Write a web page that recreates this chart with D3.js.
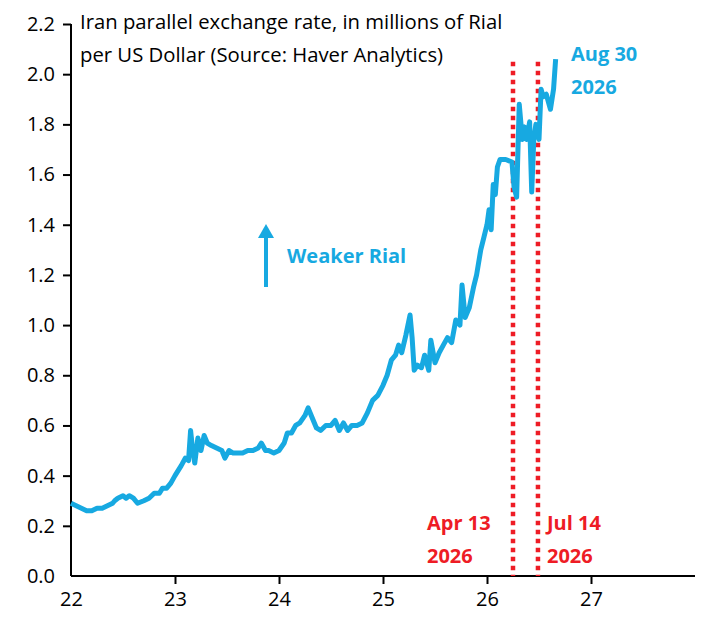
<!DOCTYPE html>
<html><head><meta charset="utf-8">
<script src="https://cdn.jsdelivr.net/npm/d3@7"></script>
<style>body{margin:0;background:#fff;font-family:"Open Sans",sans-serif;}</style>
</head><body><div id="chart"></div>
<script>
// year (decimal, 22 = 2022) and rate in millions of rial per USD
const years = [22.0,22.05,22.1,22.15,22.2,22.25,22.3,22.35,22.4,22.42,22.45,22.5,22.53,22.56,22.6,22.64,22.7,22.75,22.8,22.85,22.88,22.92,22.96,23.0,23.03,23.06,23.1,23.13,23.15,23.17,23.19,23.22,23.25,23.28,23.31,23.35,23.4,23.45,23.48,23.52,23.56,23.6,23.65,23.7,23.75,23.8,23.83,23.87,23.9,23.95,24.0,24.05,24.08,24.12,24.16,24.2,24.25,24.28,24.32,24.36,24.4,24.45,24.5,24.54,24.58,24.62,24.66,24.7,24.75,24.8,24.85,24.9,24.95,25.0,25.04,25.08,25.12,25.15,25.18,25.22,25.26,25.28,25.3,25.33,25.37,25.4,25.44,25.46,25.5,25.54,25.58,25.62,25.66,25.7,25.74,25.76,25.79,25.83,25.87,25.9,25.94,25.97,26.0,26.02,26.04,26.06,26.08,26.1,26.125,26.18,26.24,26.26,26.285,26.31,26.34,26.36,26.38,26.41,26.43,26.45,26.47,26.5,26.52,26.54,26.57,26.61,26.64,26.66];
const rates = [0.29,0.28,0.27,0.26,0.26,0.27,0.27,0.28,0.29,0.30,0.31,0.32,0.31,0.32,0.31,0.29,0.30,0.31,0.33,0.33,0.35,0.35,0.37,0.40,0.42,0.44,0.47,0.46,0.58,0.50,0.45,0.55,0.50,0.56,0.53,0.52,0.51,0.50,0.47,0.50,0.49,0.49,0.49,0.50,0.50,0.51,0.53,0.50,0.50,0.49,0.50,0.53,0.57,0.57,0.60,0.61,0.64,0.67,0.63,0.59,0.58,0.60,0.60,0.62,0.58,0.61,0.58,0.60,0.60,0.61,0.65,0.70,0.72,0.76,0.80,0.86,0.88,0.92,0.89,0.96,1.04,0.95,0.82,0.84,0.83,0.88,0.82,0.94,0.85,0.89,0.92,0.95,0.93,1.02,1.00,1.16,1.03,1.07,1.15,1.20,1.30,1.35,1.40,1.46,1.38,1.56,1.52,1.63,1.66,1.66,1.65,1.55,1.51,1.88,1.74,1.79,1.74,1.81,1.53,1.74,1.80,1.74,1.94,1.91,1.92,1.86,1.94,2.06];
const xTicks = [22,23,24,25,26,27];
const yTicks = [0,0.2,0.4,0.6,0.8,1.0,1.2,1.4,1.6,1.8,2.0,2.2];
const eventX = [26.25,26.49];
const eventLabels = [["Apr 13","2026"],["Jul 14","2026"]];

const W = 710, H = 630, blue = "#17a9e1", red = "#ee1c25";
const svg = d3.select("#chart").append("svg").attr("width", W).attr("height", H);
const x = d3.scaleLinear().domain([22,28]).range([71,695]);
const y = d3.scaleLinear().domain([0,2.2]).range([576,24]);

svg.append("g").attr("transform","translate(0,576)")
	.call(d3.axisBottom(x).tickValues(xTicks).tickFormat(d3.format("d")).tickSize(8).tickPadding(8))
	.call(g=>g.select(".domain").attr("d","M71,0H695"));
svg.append("g").attr("transform","translate(71,0)")
	.call(d3.axisLeft(y).tickValues(yTicks).tickFormat(d3.format(".1f")).tickSize(8).tickPadding(8))
	.call(g=>g.select(".domain").attr("d","M0,24V576"));
svg.selectAll(".tick text").attr("font-size",20).attr("fill","#000").attr("font-family","Open Sans");
svg.selectAll(".domain,.tick line").attr("stroke","#000").attr("stroke-width",2);
svg.selectAll(".tick").filter(d=>d===0||d===22).select("line").attr("stroke","none");

svg.selectAll("line.event").data(eventX).enter().append("line")
	.attr("x1",d=>x(d)).attr("x2",d=>x(d)).attr("y1",y(2.05)).attr("y2",576)
	.attr("stroke",red).attr("stroke-width",4.5).attr("stroke-dasharray","4.5,4.5");

const pts = years.map((v,i)=>[v,rates[i]]);
svg.append("path").datum(pts)
	.attr("d", d3.line().x(d=>x(d[0])).y(d=>y(d[1])))
	.attr("fill","none").attr("stroke",blue).attr("stroke-width",5).attr("stroke-linejoin","round");

const t = svg.append("text").attr("font-size",20.3).attr("fill","#000");
t.append("tspan").attr("x",80).attr("y",29).text("Iran parallel exchange rate, in millions of Rial");
t.append("tspan").attr("x",80).attr("y",62).text("per US Dollar (Source: Haver Analytics)");

const ev = [[427,eventLabels[0]],[547,eventLabels[1]]];
ev.forEach(([px,l])=>{
	const e = svg.append("text").attr("font-size",20).attr("font-weight","bold").attr("fill",red);
	l.forEach((s,i)=>e.append("tspan").attr("x",px).attr("y",530+i*33).text(s));
});
const a = svg.append("text").attr("font-size",20).attr("font-weight","bold").attr("fill",blue);
["Aug 30","2026"].forEach((s,i)=>a.append("tspan").attr("x",571).attr("y",61+i*33).text(s));

svg.append("text").attr("x",287).attr("y",263).attr("font-size",20).attr("font-weight","bold").attr("fill",blue).text("Weaker Rial");
svg.append("line").attr("x1",266).attr("x2",266).attr("y1",287).attr("y2",236).attr("stroke",blue).attr("stroke-width",4);
svg.append("path").attr("d","M258,238L266,224L274,238Z").attr("fill",blue);
</script></body></html>
